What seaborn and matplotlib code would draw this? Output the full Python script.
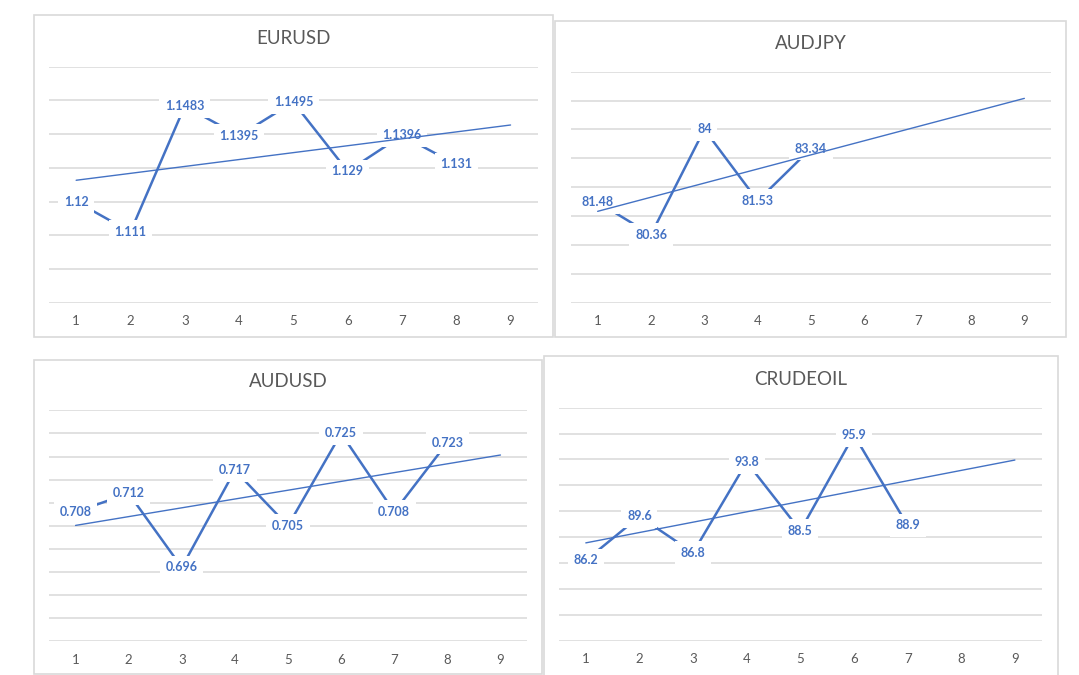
import matplotlib
matplotlib.use("Agg")
import matplotlib.pyplot as plt
import matplotlib.patches as mpatches
import numpy as np
import seaborn as sns

# values
eurusd = [1.12, 1.111, 1.1483, 1.1395, 1.1495, 1.129, 1.1396, 1.131]
audjpy = [81.48, 80.36, 84, 81.53, 83.34]
audusd = [0.708, 0.712, 0.696, 0.717, 0.705, 0.725, 0.708, 0.723]
crudeoil = [86.2, 89.6, 86.8, 93.8, 88.5, 95.9, 88.9]
categories = list(range(1, 10))

sns.set_style("white")
plt.rcParams['font.family'] = ['Lato', 'DejaVu Sans']

W, H = 1079, 675
fig = plt.figure(figsize=(W / 100, H / 100), dpi=100)
fig.patch.set_facecolor('white')

BLUE = '#4472C4'
GREY = '#595959'
GRID = '#d9d9d9'


def px_rect(x0, y0, x1, y1):
    # pixel box (top-left origin) -> figure fraction rect
    return [x0 / W, 1 - y1 / H, (x1 - x0) / W, (y1 - y0) / H]


# (title, data, ylim, step, plot area px, frame px)
panels = [
    ("EURUSD", eurusd, (1.09, 1.16), 0.01, (49, 66.7, 537.7, 302.7), (33.7, 14.7, 553.3, 337)),
    ("AUDJPY", audjpy, (78, 86), 1, (571, 71.7, 1051, 302.7), (555.3, 20.5, 1066.3, 337)),
    ("AUDUSD", audusd, (0.68, 0.73), 0.005, (49, 410.3, 527, 641.3), (33.7, 360, 542, 674)),
    ("CRUDEOIL", crudeoil, (80, 98), 2, (559, 407.7, 1041.7, 640.7), (543.7, 356.5, 1057.7, 680)),
]

for title, vals, ylim, step, area, frame in panels:
    # chart frame
    fx = px_rect(*frame)
    fig.patches.append(mpatches.Rectangle((fx[0], fx[1]), fx[2], fx[3], transform=fig.transFigure,
                                          facecolor='none', edgecolor=GRID, lw=1.2, zorder=0))
    fig.text((frame[0] + frame[2]) / 2 / W, 1 - (area[1] - 28.5) / H, title,
             ha='center', va='center', fontsize=13.5, color=GREY)

    ax = fig.add_axes(px_rect(*area))
    ax.set_facecolor('none')
    xs = list(range(1, len(vals) + 1))

    sns.lineplot(x=xs, y=vals, ax=ax, color=BLUE, lw=1.8, zorder=3)

    # data labels sit on the points with a white box
    for x, v in zip(xs, vals):
        ax.text(x, v, f"{v:g}", ha='center', va='center', fontsize=9, fontweight='bold',
                color=BLUE, zorder=4,
                bbox=dict(boxstyle='square,pad=0.45', facecolor='white', edgecolor='none'))

    # linear trendline, forecast out to the last category
    k, b = np.polyfit(xs, vals, 1)
    tx = [categories[0], categories[-1]]
    sns.lineplot(x=tx, y=[k * t + b for t in tx], ax=ax, color=BLUE, lw=1.0, zorder=5)

    ax.set_xlim(0.5, 9.5)
    ax.set_ylim(*ylim)
    ax.set_xticks(categories)
    ax.set_xticklabels([str(c) for c in categories])
    ax.set_yticks(np.arange(ylim[0], ylim[1] + step / 2, step))
    ax.set_yticklabels([])
    ax.yaxis.grid(True, color=GRID, lw=1.1)
    ax.xaxis.grid(False)
    ax.tick_params(axis='both', length=0, labelsize=9.5, colors=GREY, pad=9)
    for s in ax.spines.values():
        s.set_visible(False)
    ax.set_xlabel('')
    ax.set_ylabel('')

fig.savefig('out.png', dpi=100, facecolor='white')
